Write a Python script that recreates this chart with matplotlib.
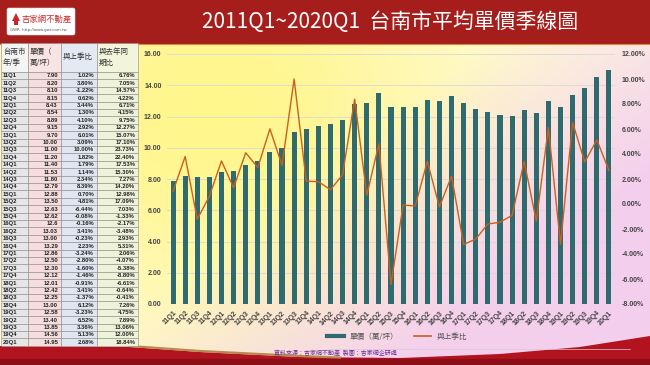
import numpy as np
import matplotlib
matplotlib.use('Agg')
import matplotlib.pyplot as plt
from matplotlib.patches import Rectangle, Polygon, FancyBboxPatch
from matplotlib.lines import Line2D

plt.rcParams['font.family'] = ['Noto Sans CJK TC', 'DejaVu Sans']

quarters = ['11Q1', '11Q2', '11Q3', '11Q4', '12Q1', '12Q2', '12Q3', '12Q4',
            '13Q1', '13Q2', '13Q3', '13Q4', '14Q1', '14Q2', '14Q3', '14Q4',
            '15Q1', '15Q2', '15Q3', '15Q4', '16Q1', '16Q2', '16Q3', '16Q4',
            '17Q1', '17Q2', '17Q3', '17Q4', '18Q1', '18Q2', '18Q3', '18Q4',
            '19Q1', '19Q2', '19Q3', '19Q4', '20Q1']
prices = [7.90, 8.20, 8.10, 8.15, 8.43, 8.54, 8.89, 9.15,
          9.70, 10.00, 11.00, 11.20, 11.40, 11.53, 11.80, 12.79,
          12.88, 13.50, 12.63, 12.62, 12.6, 13.03, 13.00, 13.29,
          12.86, 12.50, 12.30, 12.12, 12.01, 12.42, 12.25, 13.00,
          12.58, 13.40, 13.85, 14.56, 14.95]
qoq = [1.02, 3.80, -1.22, 0.62, 3.44, 1.30, 4.10, 2.92,
       6.01, 3.09, 10.00, 1.82, 1.79, 1.14, 2.34, 8.39,
       0.70, 4.81, -6.44, -0.08, -0.16, 3.41, -0.23, 2.23,
       -3.24, -2.80, -1.60, -1.46, -0.91, 3.41, -1.37, 6.12,
       -3.23, 6.52, 3.36, 5.13, 2.68]
yoy = [6.76, 7.05, 14.57, 4.22, 6.71, 4.15, 9.75, 12.27,
       15.07, 17.10, 23.73, 22.40, 17.53, 15.30, 7.27, 14.20,
       12.98, 17.09, 7.03, -1.33, -2.17, -3.48, 2.93, 5.31,
       2.06, -4.07, -5.38, -8.80, -6.61, -0.64, -0.41, 7.26,
       4.75, 7.89, 13.06, 12.00, 18.84]

TITLE = '2011Q1~2020Q1  台南市平均單價季線圖'
SOURCE = '資料來源：吉家網不動產  製圖：吉家網企研處'
BAR_LABEL = '單價（萬/坪）'
LINE_LABEL = '與上季比'

BAR_COLOR = '#2f6a6e'
LINE_COLOR = '#c8601e'
RED = '#a51e1b'
W, H = 650, 365


def background(ax):
    # soft yellow -> pink wash behind everything
    yy, xx = np.mgrid[0:H, 0:W].astype(float)
    base = np.array([255, 251, 226]) / 255.
    yellow = np.array([255, 246, 140]) / 255.
    pink = np.array([242, 200, 240]) / 255.
    a = np.exp(-((xx - 210) / 260) ** 2 - ((yy - 110) / 230) ** 2)
    b = np.clip((xx - 330) / 330 + (yy - 160) / 260, 0, 1) * 0.85
    img = base * (1 - a[..., None]) + yellow * a[..., None]
    img = img * (1 - b[..., None]) + pink * b[..., None]
    ax.imshow(img, extent=(0, W, H, 0), aspect='auto', zorder=0)

    # title bar
    ax.add_patch(Rectangle((0, 0), W, 43, color=RED, zorder=1))
    ax.plot([0, W], [43.5, 43.5], color='#d98a3a', lw=0.8, zorder=1)

    # logo
    ax.add_patch(FancyBboxPatch((7, 8), 68, 27, boxstyle='round,pad=0,rounding_size=2',
                                fc='white', ec='#dddddd', lw=0.4, zorder=2))
    ax.add_patch(Polygon([[12, 21], [16, 13], [20, 21], [18, 21], [18, 25], [14, 25], [14, 21]],
                         closed=True, fc='#c8282a', ec='none', zorder=3))
    ax.text(22, 19, '吉家網不動產', fontsize=6, color='#c8282a', va='center', zorder=3)
    ax.text(10, 30, 'GWR  http://www.gwr.com.tw', fontsize=2.8, color='#555555',
            family='DejaVu Sans', va='center', zorder=3)
    ax.text(390, 22, TITLE, color='white', fontsize=15, ha='center', va='center', zorder=3)

    # bottom red swoosh
    xs = np.linspace(0, W, 120)
    top = np.interp(xs, [0, 130, 200, 300, 400, 500, 580, 650],
                    [346, 347, 352, 357, 358, 354, 347, 336])
    pts = np.column_stack([xs, top]).tolist() + [[W, H], [0, H]]
    ax.add_patch(Polygon(pts, closed=True, fc='#b3131f', ec='none', zorder=1))
    ax.add_patch(Rectangle((0, 359), W, 6, color='#8c0e16', zorder=1))
    gx = np.linspace(130, 340, 40)
    ax.plot(gx, np.interp(gx, [130, 200, 300, 340], [346, 351, 356, 357.5]),
            color='#b98a50', lw=1.6, zorder=1)
    ax.plot([330, 630], [348.5, 348.5], color='#d7c9d6', lw=0.5, zorder=1)
    ax.text(335, 353, SOURCE, fontsize=4.3, color='#6a2c91', ha='center', va='center', zorder=3)


def draw_table(ax):
    edges = [1, 28, 61, 97, 138]
    fills = ['#e6e6e6', '#f6dddd', '#dfe6f2', '#eef2d8']
    head_fills = ['#f4f4f4', '#f8e4e4', '#e4eaf4', '#f2f4dc']
    heads = ['台南市\n年/季', '單價（\n萬/坪）', '與上季比', '與去年同\n期比']
    top, head_h, row_h = 43, 29, 7.4
    for i in range(4):
        ax.add_patch(Rectangle((edges[i], top), edges[i + 1] - edges[i], head_h,
                               fc=head_fills[i], ec='#8a8a8a', lw=0.4, zorder=2))
        ax.text(edges[i] + 2, top + head_h / 2, heads[i], fontsize=5.4, color='#333333',
                va='center', ha='left', linespacing=1.5, zorder=3)
    cols = [quarters,
            ['12.6' if q == '16Q1' else f'{p:.2f}' for q, p in zip(quarters, prices)],
            [f'{v:.2f}%' for v in qoq],
            [f'{v:.2f}%' for v in yoy]]
    for r in range(len(quarters)):
        y0 = top + head_h + r * row_h
        for i in range(4):
            ax.add_patch(Rectangle((edges[i], y0), edges[i + 1] - edges[i], row_h,
                                   fc=fills[i], ec='#8a8a8a', lw=0.4, zorder=2))
            if i == 0:
                tx, ha = edges[i] + 1.5, 'left'
            else:
                tx, ha = edges[i + 1] - 3, 'right'
            ax.text(tx, y0 + row_h / 2 + 0.2, cols[i][r], fontsize=4.2, fontweight='bold',
                    family='Liberation Sans', color='#222222', ha=ha, va='center', zorder=3)


fig = plt.figure(figsize=(6.5, 3.65), dpi=100)
bg = fig.add_axes([0, 0, 1, 1])
bg.set_xlim(0, W)
bg.set_ylim(H, 0)
bg.axis('off')
background(bg)
draw_table(bg)

# main chart
ax = fig.add_axes([167 / W, (H - 304) / H, 448 / W, 250 / H])
ax.patch.set_alpha(0)
x = np.arange(len(quarters))
ax.bar(x, prices, width=0.42, color=BAR_COLOR, zorder=2)
ax.set_xlim(-0.5, len(quarters) - 0.5)
ax.set_ylim(0, 16)
ax.set_yticks(np.arange(0, 17, 2))
ax.set_yticklabels([f'{v:.2f}' for v in np.arange(0, 17, 2)])
ax.grid(axis='y', color='#d8d8d8', lw=0.6, zorder=0)
ax.set_xticks(x)
ax.set_xticklabels(quarters, rotation=45, ha='right', rotation_mode='anchor')
for s in ax.spines.values():
    s.set_visible(False)
ax.tick_params(length=0, labelsize=5, labelcolor='#444444', pad=4)
for t in ax.get_yticklabels() + ax.get_xticklabels():
    t.set_family('Liberation Sans')
    t.set_fontweight('bold')

ax2 = ax.twinx()
ax2.plot(x, qoq, color=LINE_COLOR, lw=1.0, zorder=3)
ax2.set_ylim(-8, 12)
ax2.set_yticks(np.arange(-8, 13, 2))
ax2.set_yticklabels([f'{v:.2f}%' for v in np.arange(-8, 13, 2)])
for s in ax2.spines.values():
    s.set_visible(False)
ax2.tick_params(length=0, labelsize=5, labelcolor='#444444', pad=5)
for t in ax2.get_yticklabels():
    t.set_family('Liberation Sans')
    t.set_fontweight('bold')

handles = [Line2D([], [], color=BAR_COLOR, lw=3), Line2D([], [], color=LINE_COLOR, lw=1.2)]
fig.legend(handles, [BAR_LABEL, LINE_LABEL], loc='center', bbox_to_anchor=(397 / W, 1 - 337 / H),
           ncol=2, frameon=False, fontsize=5.5, handlelength=2.2, columnspacing=2,
           labelcolor='#555555')

fig.savefig('out.png', dpi=100)
